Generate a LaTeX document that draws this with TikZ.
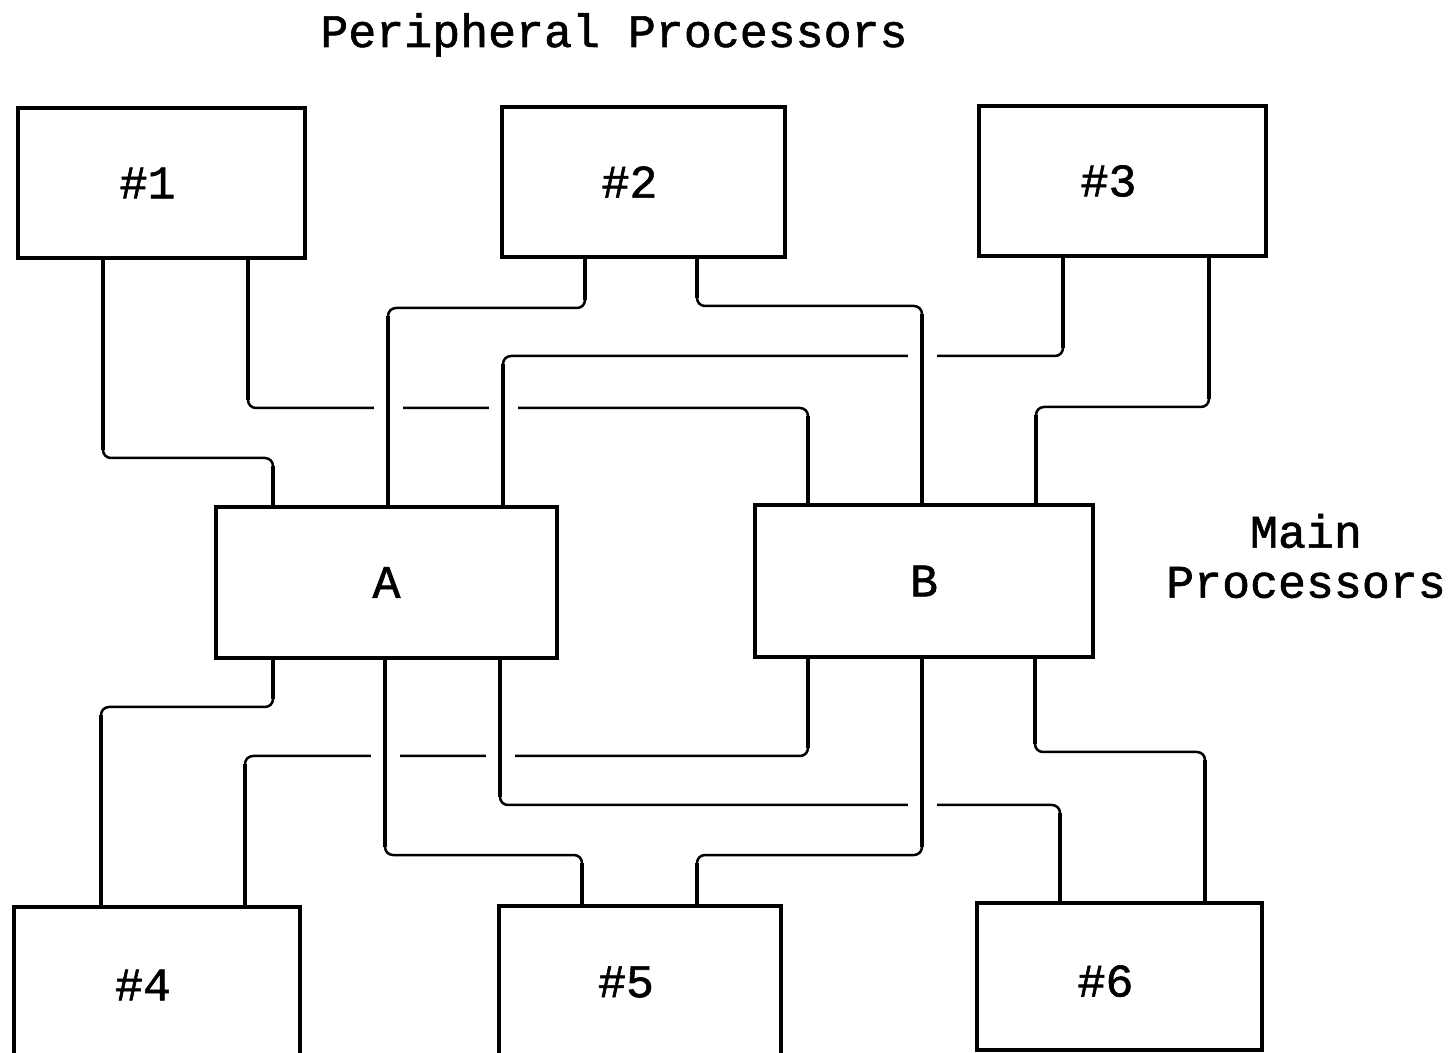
\documentclass[tikz,border=0pt]{standalone}
\usepackage{fontspec}
\newfontfamily\typefont[FakeBold=1.3]{Liberation Mono}
\usetikzlibrary{backgrounds}

% a link: thin run down from #1 at x=#2 to level #3, across to x=#4, down into #5
\newcommand\linkrun[5]{\draw[hwire] (#1 -| #2,0) -- (#2,#3) -- (#4,#3) -- (#5 -| #4,0);}
% the two heavy posts of a link, each with a white halo that breaks crossed runs
\newcommand\linkposts[5]{%
  \draw[vwire] (#1 -| #2,0) -- (#2,#3-8);
  \draw[vwire] (#4,#3+8) -- (#5 -| #4,0);}

\begin{document}
\begin{tikzpicture}[x=0.5pt,y=-0.5pt,
  typed/.style={font=\typefont\fontsize{23.3pt}{25pt}\selectfont},
  unitbox/.style={typed,draw,line width=2.3pt,inner sep=0pt},
  hwire/.style={line width=1.25pt,rounded corners=4pt},
  vwire/.style={line width=2.1pt,preaction={draw=white,line width=14.5pt}}]
\useasboundingbox (0,0) rectangle (1453,1053);

% peripheral processors
\node[unitbox,minimum width=143.5pt,minimum height=75pt] (p1) at (161.5,183) {\#1\hphantom{0}};
\node[unitbox,minimum width=141.5pt,minimum height=75pt] (p2) at (643.5,182) {\#2\hphantom{0}};
\node[unitbox,minimum width=143.5pt,minimum height=75pt] (p3) at (1122.5,181) {\#3\hphantom{0}};
\node[unitbox,minimum width=143pt,minimum height=78pt] (p4) at (157,985) {\#4\hphantom{0}};
\node[unitbox,minimum width=141pt,minimum height=76pt] (p5) at (640,982) {\#5\hphantom{0}};
\node[unitbox,minimum width=142.5pt,minimum height=73.5pt,text height=20pt,text depth=0pt] (p6) at (1119.5,976.5) {\#6\hphantom{0}};

% main processors
\node[unitbox,minimum width=170.5pt,minimum height=75.5pt] (a) at (386.5,582.5) {A};
\node[unitbox,minimum width=169pt,minimum height=76pt] (b) at (924,581) {B};

% captions
\node[typed,anchor=base] (title) at (614,47) {Peripheral Processors};
\node[typed,align=center] (mainlbl) at (1306,556) {Main\\Processors};

\begin{scope}[on background layer]
  \fill[white] (0,0) rectangle (1453,1053);
  % thin runs
  \linkrun{p1.south}{103}{458}{273}{a.north}
  \linkrun{p1.south}{248}{408}{808}{b.north}
  \linkrun{p2.south}{585}{308}{388}{a.north}
  \linkrun{p2.south}{697}{306}{922}{b.north}
  \linkrun{p3.south}{1063}{356}{503}{a.north}
  \linkrun{p3.south}{1209}{407}{1036}{b.north}
  \linkrun{a.south}{273}{707}{101}{p4.north}
  \linkrun{b.south}{808}{756}{245}{p4.north}
  \linkrun{a.south}{385}{855}{582}{p5.north}
  \linkrun{b.south}{922}{855}{697}{p5.north}
  \linkrun{a.south}{500}{805}{1060}{p6.north}
  \linkrun{b.south}{1035}{752}{1205}{p6.north}
  % heavy posts
  \linkposts{p1.south}{103}{458}{273}{a.north}
  \linkposts{p1.south}{248}{408}{808}{b.north}
  \linkposts{p2.south}{585}{308}{388}{a.north}
  \linkposts{p2.south}{697}{306}{922}{b.north}
  \linkposts{p3.south}{1063}{356}{503}{a.north}
  \linkposts{p3.south}{1209}{407}{1036}{b.north}
  \linkposts{a.south}{273}{707}{101}{p4.north}
  \linkposts{b.south}{808}{756}{245}{p4.north}
  \linkposts{a.south}{385}{855}{582}{p5.north}
  \linkposts{b.south}{922}{855}{697}{p5.north}
  \linkposts{a.south}{500}{805}{1060}{p6.north}
  \linkposts{b.south}{1035}{752}{1205}{p6.north}
\end{scope}
\end{tikzpicture}
\end{document}
